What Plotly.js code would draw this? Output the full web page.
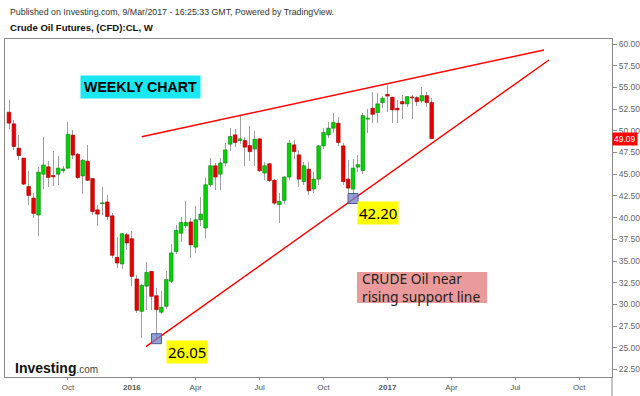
<!DOCTYPE html>
<html>
<head>
<meta charset="utf-8">
<script src="https://cdn.plot.ly/plotly-3.0.1.min.js"></script>
<style>
html,body{margin:0;padding:0;background:#fff;}
#chart{width:640px;height:396px;}
</style>
</head>
<body>
<div id="chart"></div>
<script>
// Weekly candles (week start, Monday)
const weeks = [
 '2015-07-13','2015-07-20','2015-07-27','2015-08-03','2015-08-10','2015-08-17','2015-08-24','2015-08-31','2015-09-07','2015-09-14',
 '2015-09-21','2015-09-28','2015-10-05','2015-10-12','2015-10-19','2015-10-26','2015-11-02','2015-11-09','2015-11-16','2015-11-23',
 '2015-11-30','2015-12-07','2015-12-14','2015-12-21','2015-12-28','2016-01-04','2016-01-11','2016-01-18','2016-01-25','2016-02-01',
 '2016-02-08','2016-02-15','2016-02-22','2016-02-29','2016-03-07','2016-03-14','2016-03-21','2016-03-28','2016-04-04','2016-04-11',
 '2016-04-18','2016-04-25','2016-05-02','2016-05-09','2016-05-16','2016-05-23','2016-05-30','2016-06-06','2016-06-13','2016-06-20',
 '2016-06-27','2016-07-04','2016-07-11','2016-07-18','2016-07-25','2016-08-01','2016-08-08','2016-08-15','2016-08-22','2016-08-29',
 '2016-09-05','2016-09-12','2016-09-19','2016-09-26','2016-10-03','2016-10-10','2016-10-17','2016-10-24','2016-10-31','2016-11-07',
 '2016-11-14','2016-11-21','2016-11-28','2016-12-05','2016-12-12','2016-12-19','2016-12-26','2017-01-02','2017-01-09','2017-01-16',
 '2017-01-23','2017-01-30','2017-02-06','2017-02-13','2017-02-20','2017-02-27','2017-03-06'
];
const openP = [
 52.14,50.80,48.00,46.85,43.58,42.25,40.30,45.00,45.85,44.85,
 45.00,45.40,45.70,49.50,47.30,44.80,46.50,44.50,40.90,41.60,
 41.80,40.20,35.42,34.66,38.03,37.57,32.93,29.20,32.10,33.80,
 31.00,29.10,29.78,32.66,36.10,38.20,39.06,39.50,36.60,39.75,
 38.80,43.78,45.97,45.00,46.30,48.46,49.53,48.88,48.88,48.30,
 47.90,49.07,45.13,46.20,44.30,41.50,41.98,44.67,48.38,47.23,
 44.16,45.58,43.30,44.43,48.26,49.53,50.30,50.88,48.26,44.43,
 43.28,45.82,45.42,51.35,52.60,52.10,53.25,54.20,53.87,52.60,
 53.36,53.10,53.90,53.82,53.44,54.05,53.25
];
const highP = [
 53.56,51.26,49.50,46.90,45.40,42.86,45.88,49.34,46.50,47.70,
 47.10,46.00,51.00,50.10,47.50,46.70,48.40,44.60,41.50,43.50,
 42.60,40.50,37.80,38.20,38.20,38.40,33.40,32.30,34.84,33.90,
 31.90,31.60,33.90,37.00,39.10,40.10,41.86,39.90,41.30,42.40,
 44.55,46.85,46.30,46.85,48.60,50.30,50.20,51.83,49.30,50.57,
 50.00,49.20,46.40,46.30,44.50,42.80,44.80,48.90,48.90,47.80,
 46.46,46.46,45.30,48.40,50.30,51.00,52.03,51.60,48.60,46.66,
 46.74,47.20,52.00,52.49,54.51,54.33,54.00,55.28,53.90,53.56,
 54.13,54.00,54.13,54.00,55.09,54.44,53.75
];
const lowP = [
 50.20,47.80,46.66,43.70,41.50,39.98,37.83,43.30,43.50,43.60,
 43.80,45.10,45.60,46.80,44.40,42.70,44.20,40.30,39.00,40.30,
 39.70,35.30,34.20,34.08,36.30,32.16,29.00,26.14,29.32,29.32,
 26.05,28.90,29.50,32.50,35.80,37.20,38.80,35.30,35.90,39.00,
 37.65,43.50,43.20,43.20,46.00,47.70,48.10,48.50,45.97,46.50,
 45.97,45.20,44.30,44.10,41.50,39.40,41.60,44.30,46.80,43.58,
 43.78,42.63,42.80,43.80,47.90,49.20,49.80,48.30,43.80,42.82,
 42.20,45.20,45.00,49.73,50.88,50.95,52.60,52.21,50.95,50.95,
 51.34,52.80,51.34,52.90,53.20,52.79,49.04
];
const closeP = [
 50.88,48.19,47.15,43.86,42.55,40.48,45.24,46.05,44.63,44.70,
 45.70,45.60,49.60,47.20,44.60,46.60,44.30,40.70,40.40,41.70,
 40.13,35.66,34.77,38.14,37.07,33.23,29.32,32.20,33.69,30.93,
 29.40,29.67,32.86,35.92,38.52,39.44,39.44,36.85,39.75,40.40,
 43.78,45.97,44.67,46.30,47.80,49.34,48.65,49.07,48.12,47.60,
 49.03,45.40,45.97,44.27,41.67,41.86,44.67,48.57,47.60,44.43,
 45.97,43.09,44.43,48.26,49.80,50.30,50.95,48.65,44.16,43.40,
 45.70,46.10,51.75,51.45,51.90,53.10,53.75,54.00,52.41,52.41,
 53.10,53.93,53.80,53.36,54.05,53.25,49.09
];
const yTickVals = [22.5,25,27.5,30,32.5,35,37.5,40,42.5,45,47.5,50,52.5,55,57.5,60];
const xTickVals = ['2015-10-05','2016-01-04','2016-04-04','2016-07-04','2016-10-03','2017-01-02','2017-04-03','2017-07-03','2017-10-02'];
const xTickText = ['Oct','<b>2016</b>','Apr','Jul','Oct','<b>2017</b>','Apr','Jul','Oct'];
// trend lines (start / end)
const upperLineX = ['2016-01-18','2017-08-13'];
const upperLineY = [49.32, 59.31];
const lowerLineX = ['2016-01-24','2017-08-20'];
const lowerLineY = [25.13, 58.16];
// marked lows
const lowMarkX = ['2016-02-08','2016-11-14'];
const lowMarkY = [26.05, 42.20];
const lowMarkText = ['26.05','42.20'];
const noteText = 'CRUDE Oil near<br>rising support line';
const lastPrice = 49.09;

const DAY = 86400000;
const UP = '#00d400', UPLINE = '#0a7a0a', DN = '#e60000', DNLINE = '#9a0000';

const bodyBase = [], bodyLen = [], bodyFill = [], bodyLine = [];
for (let i = 0; i < weeks.length; i++) {
  const o = openP[i], c = closeP[i];
  bodyBase.push(Math.min(o, c));
  bodyLen.push(Math.max(Math.abs(c - o), 0.06));
  const up = c >= o;
  bodyFill.push(up ? UP : DN);
  bodyLine.push(up ? UPLINE : DNLINE);
}
const wickLen = highP.map((h, i) => h - lowP[i]);

const wicks = {
  type: 'bar', x: weeks, base: lowP, y: wickLen,
  width: 1.424 * DAY,
  marker: {color: '#9e9e9e', opacity: 0.99},
  hoverinfo: 'skip', showlegend: false
};
const bodies = {
  type: 'bar', x: weeks, base: bodyBase, y: bodyLen,
  width: 5.2 * DAY,
  marker: {color: bodyFill, line: {color: bodyLine, width: 0.6}},
  hoverinfo: 'skip', showlegend: false
};

const T = 39, B = 377, L = 5, R = 612;
const px2paperX = p => (p - L) / (R - L);
const px2paperY = p => 1 - (p - T) / (B - T);

const shapes = [
  {type: 'line', xref: 'x', yref: 'y', x0: upperLineX[0], y0: upperLineY[0], x1: upperLineX[1], y1: upperLineY[1],
   line: {color: '#ff0000', width: 1.4}},
  {type: 'line', xref: 'x', yref: 'y', x0: lowerLineX[0], y0: lowerLineY[0], x1: lowerLineX[1], y1: lowerLineY[1],
   line: {color: '#ff0000', width: 1.4}},
  {type: 'line', xref: 'paper', yref: 'paper', x0: 1, x1: 1, y0: 0, y1: px2paperY(396),
   line: {color: '#8a8a8a', width: 1}},
  {type: 'rect', xref: 'paper', yref: 'paper', x0: px2paperX(357), x1: px2paperX(487), y0: px2paperY(272), y1: px2paperY(303),
   fillcolor: '#ea9a9a', line: {width: 0}, layer: 'above'}
];
lowMarkX.forEach((d, i) => {
  shapes.push({type: 'rect', xref: 'x', yref: 'y', xsizemode: 'pixel', ysizemode: 'pixel',
    xanchor: d, yanchor: lowMarkY[i], x0: -5, x1: 5, y0: -5, y1: 5,
    fillcolor: 'rgba(110,130,200,0.75)', line: {color: '#4a5a9a', width: 1}});
});

const annotations = [
  {xref: 'paper', yref: 'paper', x: px2paperX(8), y: px2paperY(12), xanchor: 'left', yanchor: 'middle',
   text: 'Published on Investing.com, 9/Mar/2017 - 16:25:33 GMT, Powered by TradingView.',
   showarrow: false, font: {family: 'Liberation Sans, Arial, sans-serif', size: 8.8, color: '#333'}},
  {xref: 'paper', yref: 'paper', x: px2paperX(8), y: px2paperY(27), xanchor: 'left', yanchor: 'middle',
   text: '<b>Crude Oil Futures, (CFD):CL, W</b>',
   showarrow: false, font: {family: 'Liberation Sans, Arial, sans-serif', size: 9.6, color: '#111'}},
  {xref: 'paper', yref: 'paper', x: px2paperX(140), y: px2paperY(86.5), xanchor: 'center', yanchor: 'middle',
   text: '<b>WEEKLY CHART</b>', showarrow: false, bgcolor: '#19e8f2', borderpad: 3,
   font: {family: 'Liberation Sans, Arial, sans-serif', size: 14.2, color: '#000'}},
  {xref: 'paper', yref: 'paper', x: px2paperX(186.5), y: px2paperY(351.5), xanchor: 'center', yanchor: 'middle',
   text: lowMarkText[0], showarrow: false, bgcolor: '#ffff00', borderpad: 1,
   font: {family: 'Noto Sans, sans-serif', size: 15, color: '#000'}},
  {xref: 'paper', yref: 'paper', x: px2paperX(377.5), y: px2paperY(213), xanchor: 'center', yanchor: 'middle',
   text: lowMarkText[1], showarrow: false, bgcolor: '#ffff00', borderpad: 1,
   font: {family: 'Noto Sans, sans-serif', size: 15, color: '#000'}},
  {xref: 'paper', yref: 'paper', x: px2paperX(360), y: px2paperY(287.5), xanchor: 'left', yanchor: 'middle', align: 'left',
   text: noteText, showarrow: false,
   font: {family: 'Noto Sans, sans-serif', size: 13.8, color: '#222'}},
  {xref: 'paper', yref: 'y', x: 1.0, y: lastPrice, xanchor: 'left', yanchor: 'middle',
   text: lastPrice.toFixed(2), showarrow: false, bgcolor: '#ff0000', borderpad: 1,
   font: {family: 'Liberation Sans, Arial, sans-serif', size: 8.5, color: '#fff'}},
  {xref: 'paper', yref: 'paper', x: px2paperX(13), y: px2paperY(368), xanchor: 'left', yanchor: 'middle',
   text: '<b>Investing</b><span style="font-size:10px;color:#444">.com</span>', showarrow: false,
   font: {family: 'Liberation Sans, Arial, sans-serif', size: 14, color: '#111'}}
];

const layout = {
  width: 640, height: 396,
  margin: {l: L, r: 640 - R, t: T, b: 396 - B, pad: 0},
  paper_bgcolor: '#fff', plot_bgcolor: '#fff',
  barmode: 'overlay', bargap: 0,
  showlegend: false, hovermode: false,
  xaxis: {
    type: 'date', range: ['2015-07-07 07:16', '2017-11-17 19:00'],
    tickvals: xTickVals, ticktext: xTickText, tickangle: 0,
    ticks: 'outside', ticklen: 2, tickcolor: '#8a8a8a',
    showgrid: false, zeroline: false, showline: true, mirror: true, linecolor: '#8a8a8a', linewidth: 1,
    tickfont: {family: 'Liberation Sans, Arial, sans-serif', size: 8, color: '#555'},
    automargin: false, fixedrange: true
  },
  yaxis: {
    side: 'right', range: [21.636, 60.576],
    tickvals: yTickVals, tickformat: '.2f',
    ticks: 'outside', ticklen: 4, tickcolor: '#8a8a8a',
    showgrid: false, zeroline: false, showline: true, mirror: true, linecolor: '#8a8a8a', linewidth: 1,
    tickfont: {family: 'Liberation Sans, Arial, sans-serif', size: 8.5, color: '#666'},
    automargin: false, fixedrange: true
  },
  shapes: shapes,
  annotations: annotations
};

Plotly.newPlot('chart', [wicks, bodies], layout, {staticPlot: true, displayModeBar: false});
</script>
</body>
</html>
